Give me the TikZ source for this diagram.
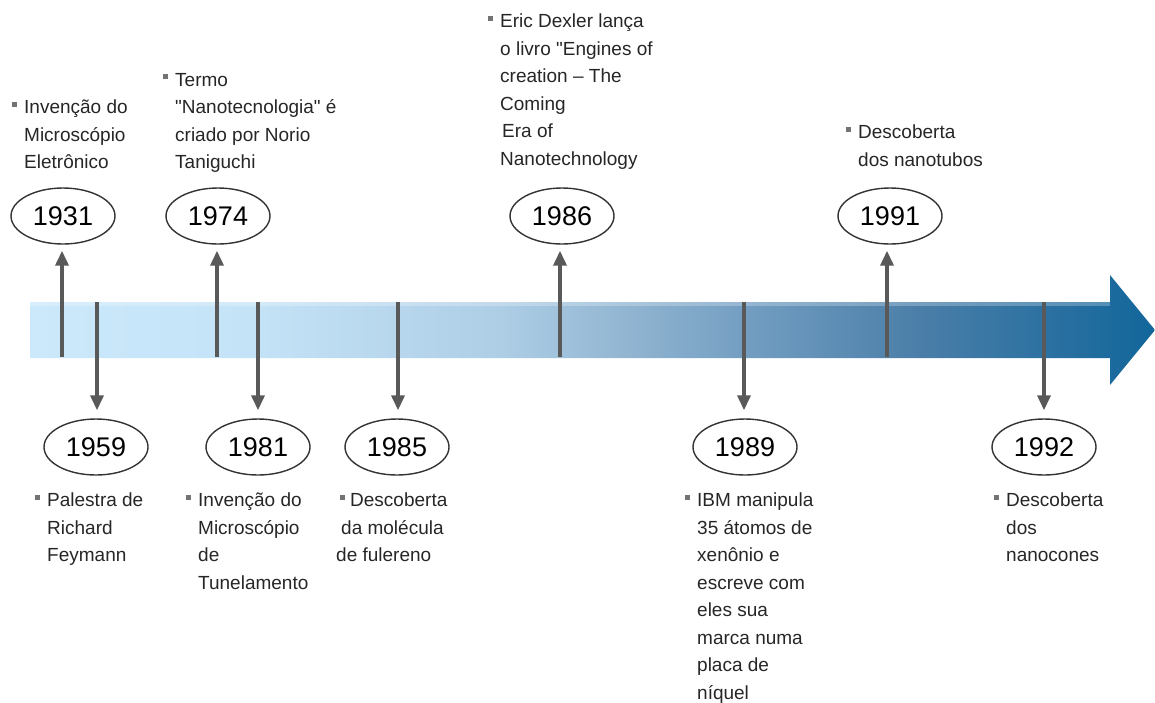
\documentclass[tikz,border=0pt]{standalone}
\usepackage{fontspec}
\setmainfont{Liberation Sans}
\usetikzlibrary{
    arrows.meta,
    calc,
    positioning,
    shapes.geometric,
}
\definecolor{barA}{HTML}{CCE9FB}
\definecolor{barB}{HTML}{C4E3F7}
\definecolor{barC}{HTML}{AECEE6}
\definecolor{barD}{HTML}{93B6D2}
\definecolor{barE}{HTML}{729DC1}
\definecolor{barF}{HTML}{4A7EA8}
\definecolor{barG}{HTML}{12669B}
\pgfdeclarehorizontalshading{timebar}{100bp}{color(0bp)=(barA); color(25bp)=(barA); color(34.8bp)=(barB); color(45.9bp)=(barC); color(51.2bp)=(barD); color(57bp)=(barE); color(64.6bp)=(barF); color(75bp)=(barG); color(100bp)=(barG)}
\newcommand{\bul}{\llap{\textcolor{black!55}{\rule[7pt]{5pt}{5pt}}\hspace{7pt}}}
\tikzset{
    yearbox/.style={draw=black!80, line width=1.4pt, ellipse, inner sep=0pt,
        minimum width=104pt, minimum height=56pt, font=\fontsize{27}{27}\selectfont},
    notes/.style={anchor=north west, align=left, inner sep=0pt,
        font=\fontsize{19}{27.5}\selectfont, text=black!85},
    tick/.style={draw=black!65, line width=3.5pt, -{Triangle[length=15pt,width=13pt]}},
}

\begin{document}
\begin{tikzpicture}[x=1pt,y=-1pt]
    \useasboundingbox (0,0) rectangle (1155,702);
    % time line
    \shade[shading=timebar] (30,302) -- (1110,302) -- (1110,275) -- (1155,330)
        -- (1110,385) -- (1110,358) -- (30,358) -- cycle;
    \fill[white,opacity=.25] (30,302) rectangle (1110,306);

    % points on the bar
    \coordinate (b1931) at (62,357);
    \coordinate (b1959) at (97,302);
    \coordinate (b1974) at (217,357);
    \coordinate (b1981) at (258,302);
    \coordinate (b1985) at (398,302);
    \coordinate (b1986) at (560,357);
    \coordinate (b1989) at (744,302);
    \coordinate (b1991) at (887,357);
    \coordinate (b1992) at (1044,302);

    % years
    \node[yearbox] (y1931) at (63,216) {1931};
    \node[yearbox] (y1974) at (218,216) {1974};
    \node[yearbox] (y1986) at (562,216) {1986};
    \node[yearbox] (y1991) at (890,216) {1991};
    \node[yearbox] (y1959) at (96,447) {1959};
    \node[yearbox] (y1981) at (258,447) {1981};
    \node[yearbox] (y1985) at (397,447) {1985};
    \node[yearbox] (y1989) at (745,447) {1989};
    \node[yearbox] (y1992) at (1044,447) {1992};

    \foreach \yr in {1931,1974,1986,1991}
        \draw[tick, shorten >=6pt] (b\yr) -- (b\yr |- y\yr.south);
    \foreach \yr in {1959,1981,1985,1989,1992}
        \draw[tick, shorten >=8pt] (b\yr) -- (b\yr |- y\yr.north);

    % events
    \node[notes] (t1931) at (24,100) {\bul Invenção do\\Microscópio\\Eletrônico};
    \node[notes] (t1974) at (175,73) {\bul Termo\\\textquotedbl Nanotecnologia\textquotedbl{} é\\criado por Norio\\Taniguchi};
    \node[notes] (t1986) at (500,14) {\bul Eric Dexler lança\\o livro \textquotedbl Engines of\\creation -- The\\Coming\\\hspace{2pt}Era of\\Nanotechnology};
    \node[notes] (t1991) at (858,125) {\bul Descoberta\\dos nanotubos};
    \node[notes] (t1959) at (47,493) {\bul Palestra de\\Richard\\Feymann};
    \node[notes] (t1981) at (198,493) {\bul Invenção do\\Microscópio\\de\\Tunelamento};
    \node[notes] (t1985) at (336,493) {\hspace{4pt}\textcolor{black!55}{\rule[7pt]{5pt}{5pt}}\hspace{5pt}Descoberta\\\hspace{5pt}da molécula\\de fulereno};
    \node[notes] (t1989) at (697,493) {\bul IBM manipula\\35 átomos de\\xenônio e\\escreve com\\eles sua\\marca numa\\placa de\\níquel};
    \node[notes] (t1992) at (1006,493) {\bul Descoberta\\dos\\nanocones};
\end{tikzpicture}
\end{document}
